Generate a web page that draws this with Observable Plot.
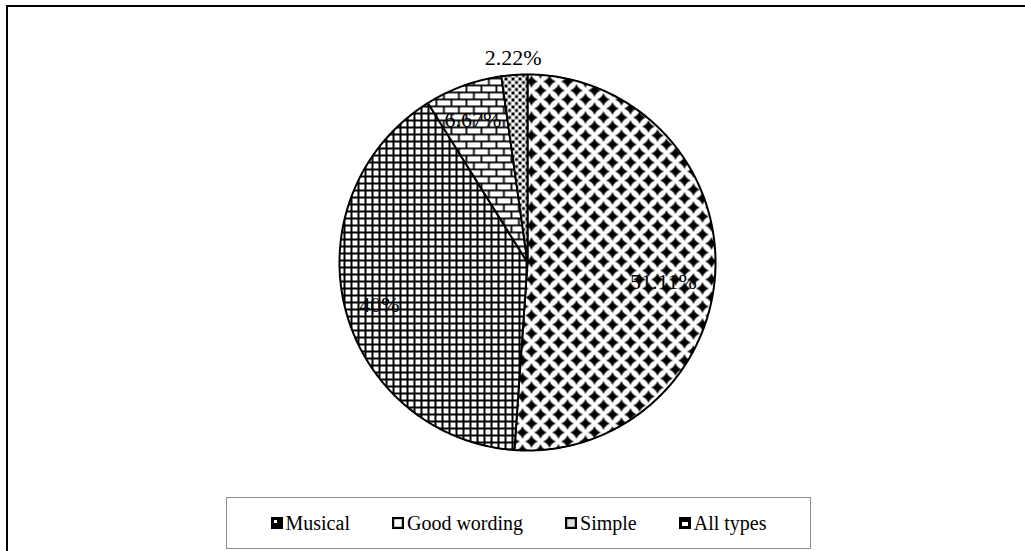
<!DOCTYPE html>
<html><head><meta charset="utf-8">
<script src="https://cdn.jsdelivr.net/npm/d3@7"></script>
<script src="https://cdn.jsdelivr.net/npm/@observablehq/plot@0.6"></script>
<style>
html,body{margin:0;padding:0;background:#fff;width:1025px;height:551px;overflow:hidden;position:relative;}
#frame{position:absolute;left:6px;top:5px;width:1100px;height:600px;border-left:2px solid #000;border-top:2px solid #000;}
#chart{position:absolute;left:0;top:0;}
#legend{position:absolute;left:226px;top:497px;width:583px;height:50px;border:1px solid #8c8c8c;display:flex;align-items:center;justify-content:center;gap:42px;font-family:"Liberation Serif",serif;font-size:20px;color:#000;background:#fff;}
.item{display:flex;align-items:center;line-height:1;}
.item svg{margin-right:3px;display:block;}
</style></head>
<body>
<svg width="0" height="0" style="position:absolute">
<defs>
<symbol id="dia" overflow="visible"><path d="M0 -6.5Q1.6 -1.6 6.5 0Q1.6 1.6 0 6.5Q-1.6 1.6 -6.5 0Q-1.6 -1.6 0 -6.5Z M0 -4.8L4.8 0L0 4.8L-4.8 0Z" fill="#000"/></symbol>
<pattern id="pMusical" patternUnits="userSpaceOnUse" width="18" height="18">
<rect width="18" height="18" fill="#fff"/>
<use href="#dia" x="9" y="9"/><use href="#dia" x="0" y="0"/><use href="#dia" x="18" y="0"/><use href="#dia" x="0" y="18"/><use href="#dia" x="18" y="18"/>
</pattern>
<pattern id="pGood" patternUnits="userSpaceOnUse" width="7" height="7">
<rect width="7" height="7" fill="#000"/>
<rect x="2" y="2" width="5" height="5" fill="#fff"/>
</pattern>
<pattern id="pSimple" patternUnits="userSpaceOnUse" width="15" height="14">
<rect width="15" height="14" fill="#fff"/>
<rect x="0" y="0" width="15" height="1.8" fill="#000"/>
<rect x="0" y="7" width="15" height="1.8" fill="#000"/>
<rect x="0" y="0" width="1.8" height="7" fill="#000"/>
<rect x="7.5" y="7" width="1.8" height="7" fill="#000"/>
</pattern>
<pattern id="pAll" patternUnits="userSpaceOnUse" width="7" height="7">
<rect width="7" height="7" fill="#fff"/>
<rect x="0" y="0" width="3" height="3" fill="#000"/>
<rect x="3.5" y="3.5" width="3" height="3" fill="#000"/>
</pattern>
</defs>
</svg>
<div id="frame"></div>
<div id="chart"></div>
<div id="legend"></div>
<script>
// ---- data ----
const categories = ["Musical", "Good wording", "Simple", "All types"];
const shares = [51.11, 40, 6.67, 2.22];
const labels = ["51.11%", "40%", "6.67%", "2.22%"];

// ---- styling / layout ----
const patterns = ["url(#pMusical)", "url(#pGood)", "url(#pSimple)", "url(#pAll)"];
const labelPlace = [{turn: 6, k: 0.73}, {turn: -2, k: 0.82}, {turn: -1, k: 0.81}, {turn: 0, k: 1.09}];

const total = d3.sum(shares);
let acc = 0;
const slices = categories.map((c, i) => {
  const a0 = acc / total * 360; acc += shares[i]; const a1 = acc / total * 360;
  return {c, a0, a1, mid: (a0 + a1) / 2, label: labels[i]};
});
const toXY = (deg, k) => ({x: k * Math.sin(deg * Math.PI / 180), y: k * Math.cos(deg * Math.PI / 180)});
function polygon(s) {
  const pts = [toXY(0, 0)];
  const n = Math.max(2, Math.ceil((s.a1 - s.a0) / 0.5));
  for (let j = 0; j <= n; j++) pts.push(toXY(s.a0 + (s.a1 - s.a0) * j / n, 1));
  return pts;
}
const labelData = slices.map((s, i) => ({...toXY(s.mid + labelPlace[i].turn, labelPlace[i].k), text: s.label}));

const chart = Plot.plot({
  width: 1025, height: 490, margin: 0,
  x: {domain: [-1, 1], range: [339, 715], axis: null},
  y: {domain: [-1, 1], range: [450, 74], axis: null},
  style: {background: "transparent", overflow: "visible"},
  marks: [
    ...slices.map((s, i) => Plot.line(polygon(s), {x: "x", y: "y", curve: "linear-closed", fill: patterns[i], stroke: "#000", strokeWidth: 2})),
    Plot.text(labelData, {x: "x", y: "y", text: "text", fontSize: 22, fontFamily: "Liberation Serif", fill: "#000", lineAnchor: "middle", textAnchor: "middle"})
  ]
});
document.getElementById("chart").appendChild(chart);

// legend
const icons = [
  '<rect x="1" y="1" width="10" height="10" fill="#000" stroke="#000" stroke-width="2"/><rect x="3" y="3" width="3" height="3" fill="#fff"/>',
  '<rect x="1" y="1" width="10" height="10" fill="#fff" stroke="#000" stroke-width="2.4"/>',
  '<rect x="1" y="1" width="10" height="10" fill="#ddd" stroke="#000" stroke-width="2.4"/>',
  '<rect x="1" y="1" width="10" height="10" fill="#000" stroke="#000" stroke-width="2"/><rect x="3" y="5" width="6" height="4" fill="#fff"/>'
];
const legend = document.getElementById("legend");
categories.forEach((c, i) => {
  const d = document.createElement("div");
  d.className = "item";
  d.innerHTML = `<svg width="12" height="12" viewBox="0 0 12 12">${icons[i]}</svg><span>${c}</span>`;
  legend.appendChild(d);
});
</script>
</body></html>
